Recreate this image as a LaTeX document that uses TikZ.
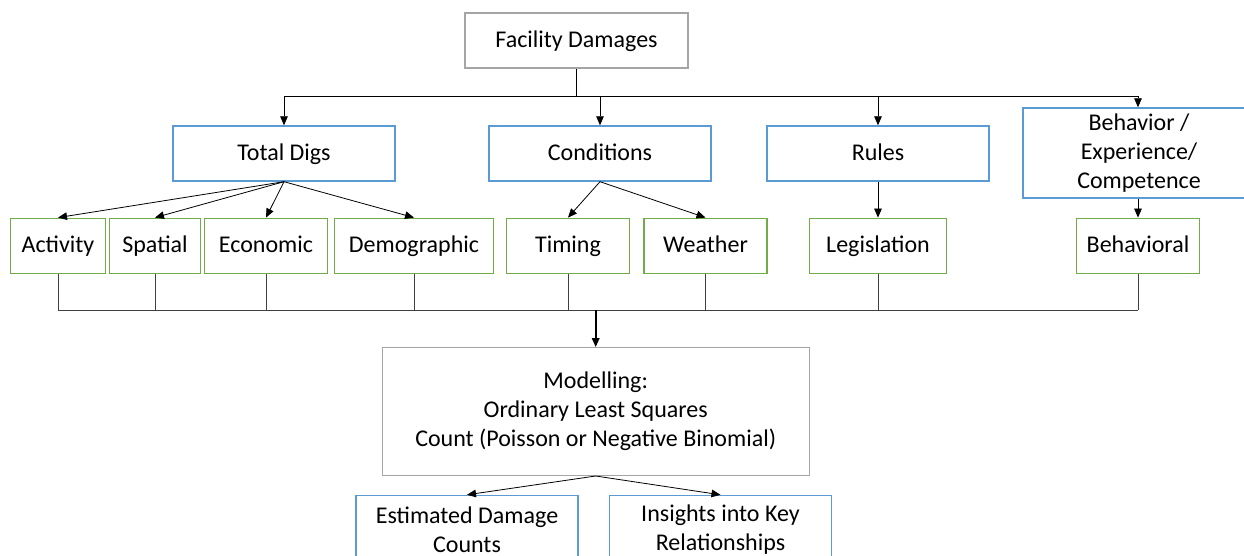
\documentclass[tikz,border=0pt]{standalone}
\usepackage{fontspec}
\setmainfont{Carlito}
\usetikzlibrary{arrows.meta,positioning}
\definecolor{boxgray}{RGB}{165,165,165}
\definecolor{boxblue}{RGB}{91,155,213}
\definecolor{boxgreen}{RGB}{112,173,71}
\tikzset{>={Triangle[length=4.5pt,width=3.8pt]},
	every node/.style={font=\fontsize{12}{14.5}\selectfont, align=center, inner sep=2pt},
	oneline/.style={text height=8.6pt, text depth=1.8pt},
	graybox/.style={draw=boxgray, line width=0.7pt, minimum height=27.5pt},
	bluebox/.style={draw=boxblue, line width=0.7pt, minimum height=27.5pt, minimum width=111pt},
	greenbox/.style={draw=boxgreen, line width=0.7pt, minimum height=27.5pt, oneline},
	link/.style={->, line width=0.4pt},
	bus/.style={line width=0.5pt, draw=black!75}}

\begin{document}
\begin{tikzpicture}[x=0.5pt, y=-0.5pt]
	\useasboundingbox (0,0) rectangle (1244,556);
	\clip (0,0) rectangle (1244,556);
	% top and categories
	\node[graybox, oneline, minimum width=111.5pt] (damages) at (576.5,40.5) {Facility Damages};
	\node[bluebox, oneline] (digs) at (284,153.5) {Total Digs};
	\node[bluebox, oneline] (cond) at (600,153.5) {Conditions};
	\node[bluebox, oneline] (rules) at (878,153.5) {Rules};
	\node[bluebox, minimum height=45pt, minimum width=116pt] (behav) at (1139,153) {Behavior /\\ Experience/\\ Competence};
	% variables
	\node[greenbox, minimum width=47.5pt] (act) at (58,245.8) {Activity};
	\node[greenbox, minimum width=45.5pt] (spat) at (155,245.8) {Spatial};
	\node[greenbox, minimum width=61.5pt] (econ) at (266,245.8) {Economic};
	\node[greenbox, minimum width=79.3pt] (demo) at (414,245.8) {Demographic};
	\node[greenbox, minimum width=61.3pt] (timing) at (568,245.8) {Timing};
	\node[greenbox, minimum width=61.5pt] (weather) at (705.5,245.8) {Weather};
	\node[greenbox, minimum width=68.5pt] (legis) at (878,245.8) {Legislation};
	\node[greenbox, minimum width=61.5pt] (behavl) at (1138,245.8) {Behavioral};
	% model and outputs
	\node[graybox, minimum width=213.5pt, minimum height=63.8pt] (model) at (595.7,411.5)
		{Modelling:\\ Ordinary Least Squares\\ Count (Poisson or Negative Binomial)};
	\node[bluebox, minimum height=34pt] (estim) at (467,529.5) {Estimated Damage\\ Counts};
	\node[bluebox, minimum height=34pt] (insight) at (720.5,529.5) {Insights into Key\\ Relationships};

	\coordinate (split) at (576.5,96.7);
	\coordinate (join) at (595.7,310.3);
	\draw[line width=0.8pt] (damages.south) -- (split);
	\foreach \t in {digs,cond,rules}
		\draw[link] (split) -| (\t.north);
	\draw[link] (split) -| (behav.north -| behavl.north);
	\foreach \t in {act,spat,econ,demo}
		\draw[link] (digs.south) -- (\t.north);
	\foreach \t in {timing,weather}
		\draw[link] (cond.south) -- (\t.north);
	\draw[link] (rules) -- (legis);
	\draw[link] (behav.south -| behavl.north) -- (behavl.north);
	\foreach \t in {act,spat,econ,demo,timing,weather,legis,behavl}
		\draw[bus] (\t.south) -- (\t.south |- join);
	\draw[bus] (act.south |- join) -- (behavl.south |- join);
	\draw[->, line width=0.8pt] (join) -- (model.north);
	\draw[link] (model.south) -- (estim.north);
	\draw[link] (model.south) -- (insight.north);
\end{tikzpicture}
\end{document}
